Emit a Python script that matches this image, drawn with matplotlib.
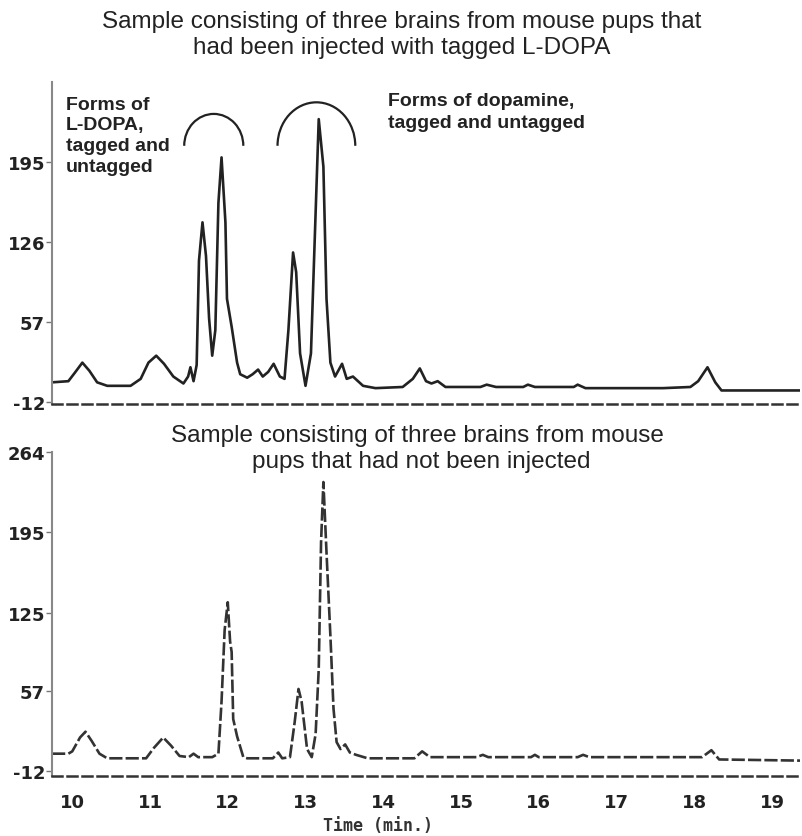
import matplotlib
matplotlib.use('Agg')
import matplotlib.pyplot as plt
from matplotlib.patches import Arc

# chromatogram: time (min) and detector signal
t_inj = [9.74, 9.95, 10.03, 10.13, 10.22, 10.32, 10.45, 10.75, 10.88, 10.98, 11.08, 11.18, 11.3,
         11.43, 11.49, 11.52, 11.56, 11.60, 11.63, 11.675, 11.72, 11.76, 11.80, 11.84, 11.88,
         11.92, 11.97, 11.99, 12.05, 12.12, 12.16, 12.25, 12.32, 12.39, 12.45, 12.52, 12.59,
         12.67, 12.73, 12.78, 12.84, 12.88, 12.93, 13.0, 13.07, 13.11, 13.17, 13.23, 13.27,
         13.32, 13.38, 13.47, 13.53, 13.61, 13.74, 13.9, 14.25, 14.38, 14.47, 14.55, 14.62,
         14.7, 14.8, 15.25, 15.33, 15.45, 15.8, 15.86, 15.95, 16.45, 16.5, 16.6, 17.6, 17.95,
         18.05, 18.17, 18.27, 18.35, 19.36]
y_inj = [5, 6, 13, 22, 15, 5, 2, 2, 8, 22, 28, 21, 10,
         4, 10, 18, 6, 20, 110, 143, 114, 60, 28, 50, 160,
         199, 143, 77, 53, 22, 12, 9, 12, 16, 10, 14, 21,
         10, 8, 50, 117, 100, 30, 2, 30, 111, 232, 191, 77,
         22, 10, 21, 8, 10, 2, 0, 1, 8, 17, 6, 4,
         6, 1, 1, 3, 1, 1, 3, 1, 1, 3, 0, 0, 1,
         6, 18, 5, -2, -2]

t_ctl = [9.74, 9.95, 10.0, 10.1, 10.17, 10.25, 10.35, 10.45, 10.95, 11.05, 11.17, 11.27, 11.38,
         11.5, 11.56, 11.62, 11.8, 11.88, 11.92, 11.96, 12.0, 12.03, 12.05, 12.07, 12.12, 12.2,
         12.25, 12.58, 12.65, 12.7, 12.8, 12.86, 12.91, 12.95, 13.02, 13.08, 13.13, 13.17, 13.2,
         13.23, 13.27, 13.32, 13.36, 13.4, 13.45, 13.51, 13.57, 13.65, 13.8, 14.4, 14.5, 14.6,
         15.2, 15.28, 15.35, 15.9, 15.95, 16.0, 16.5, 16.57, 16.65, 18.1, 18.22, 18.32, 19.36]
y_ctl = [3, 3, 5, 17, 22, 14, 3, -1, -1, 8, 17, 10, 1,
         0, 3, 0, 0, 3, 48, 110, 134, 100, 91, 33, 18, 0,
         -1, -1, 4, -1, 0, 30, 59, 48, 7, 0, 20, 76, 186,
         238, 177, 105, 42, 13, 7, 11, 4, 2, -1, -1, 5, 0,
         0, 2, 0, 0, 2, 0, 0, 2, 0, 0, 6, -2, -3]

ticks_inj = [-12, 57, 126, 195]
ticks_ctl = [-12, 57, 125, 195, 264]
x_ticks = [10, 11, 12, 13, 14, 15, 16, 17, 18, 19]

fig = plt.figure(figsize=(8.03, 8.37), dpi=100)
ax1 = fig.add_axes([0.0648, 0.5161, 0.9315, 0.3847])
ax2 = fig.add_axes([0.0648, 0.0717, 0.9315, 0.3871])

ax1.plot(t_inj, y_inj, color='#222222', lw=1.9)
ax2.plot(t_ctl, y_ctl, color='#333333', lw=1.9, linestyle=(0, (5, 1.2)))

ax1.set_ylim(-13.7, 264)
ax2.set_ylim(-16.3, 264)
for ax, yt in [(ax1, ticks_inj), (ax2, ticks_ctl)]:
    ax.set_xlim(9.74, 19.36)
    ax.set_yticks(yt)
    ax.set_yticklabels([str(v) for v in yt], fontsize=13, fontweight='bold', color='#222222')
    ax.tick_params(axis='y', direction='out', length=4, width=1, color='#777777', pad=1)
    ax.spines['top'].set_visible(False)
    ax.spines['right'].set_visible(False)
    ax.spines['left'].set_color('#888888')
    ax.spines['left'].set_linewidth(1.5)
    ax.spines['bottom'].set_color('#333333')
    ax.spines['bottom'].set_linewidth(1.8)
    ax.spines['bottom'].set_linestyle((0, (4, 2)))

ax1.set_xticks([])
ax2.set_xticks(x_ticks)
ax2.set_xticklabels([str(v) for v in x_ticks], fontsize=13, fontweight='bold', color='#222222')
ax2.tick_params(axis='x', length=0, pad=12)

# brackets over the peak groups
ax1.add_patch(Arc((11.82, 209), 0.76, 55, theta1=0, theta2=180, color='#222222', lw=1.6))
ax1.add_patch(Arc((13.14, 209), 1.0, 75, theta1=0, theta2=180, color='#222222', lw=1.6))

fig.text(0.5, 0.974, 'Sample consisting of three brains from mouse pups that',
         ha='center', va='center', fontsize=17.5, family='Liberation Sans', color='#222222')
fig.text(0.5, 0.943, 'had been injected with tagged L-DOPA',
         ha='center', va='center', fontsize=17.5, family='Liberation Sans', color='#222222')
fig.text(0.52, 0.479, 'Sample consisting of three brains from mouse',
         ha='center', va='center', fontsize=17.5, family='Liberation Sans', color='#222222')
fig.text(0.525, 0.448, 'pups that had not been injected',
         ha='center', va='center', fontsize=17.5, family='Liberation Sans', color='#222222')

fig.text(0.082, 0.837, 'Forms of\nL-DOPA,\ntagged and\nuntagged', ha='left', va='center',
         fontsize=14, fontweight='bold', family='Liberation Sans', color='#222222', linespacing=1.3)
fig.text(0.483, 0.866, 'Forms of dopamine,\ntagged and untagged', ha='left', va='center',
         fontsize=14, fontweight='bold', family='Liberation Sans', color='#222222', linespacing=1.4)

fig.text(0.471, 0.013, 'Time (min.)', ha='center', va='center', fontsize=12,
         family='DejaVu Sans Mono', fontweight='bold', color='#333333')

plt.savefig('out.png', dpi=100)
